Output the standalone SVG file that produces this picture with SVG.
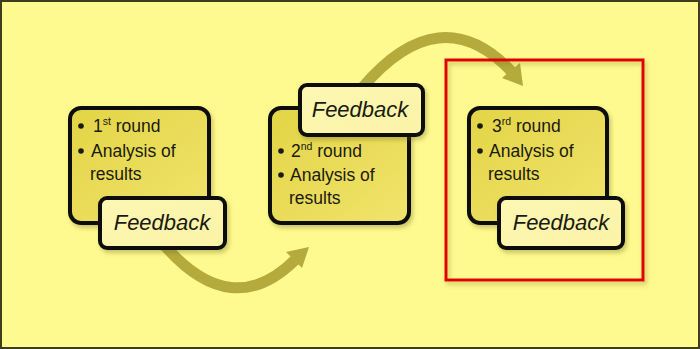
<svg xmlns="http://www.w3.org/2000/svg" width="700" height="349" viewBox="0 0 700 349">
<defs>
<linearGradient id="boxFill" x1="0" y1="0" x2="1" y2="1">
<stop offset="0" stop-color="#e3d446"/>
<stop offset="1" stop-color="#f0e46c"/>
</linearGradient>
<linearGradient id="fbFill" x1="0" y1="0" x2="1" y2="1">
<stop offset="0" stop-color="#fdf7b4"/>
<stop offset="1" stop-color="#fbf3a6"/>
</linearGradient>
<filter id="shadow" x="-10%" y="-10%" width="130%" height="130%">
<feDropShadow dx="2" dy="3" stdDeviation="2" flood-color="#6b6420" flood-opacity="0.35"/>
</filter>
</defs>
<style>
.box{fill:url(#boxFill);stroke:#111;stroke-width:4;filter:url(#shadow)}
.fb{fill:url(#fbFill);stroke:#111;stroke-width:4;filter:url(#shadow)}
.t{font-family:"Liberation Sans",Arial,sans-serif;font-size:17.5px;fill:#1a1a10}
.sup{font-size:10.5px}
.fbt{font-family:"Liberation Sans",Arial,sans-serif;font-size:22px;font-style:italic;fill:#1a1a10;text-anchor:middle}
.bul{fill:#1a1a10}
.arr{fill:none;stroke:#b5aa3c;stroke-width:11}
.head{fill:#b5aa3c}
</style>
<rect x="1" y="1" width="698" height="347" fill="#fefa8f" stroke="#3e3d1c" stroke-width="2"/>
<g id="connectors">
<path class="arr" d="M 165 246 Q 232 322 295 260"/>
<polygon class="head" points="309,247 302,268 286,252"/>
<path class="arr" d="M 362 88 Q 440 -4 512 72"/>
<polygon class="head" points="523,86 502,78 520,63"/>
</g>
<g id="box1">
<rect class="box" x="70" y="108" width="139" height="115" rx="11"/>
<circle class="bul" cx="81" cy="126" r="2.8"/>
<text class="t" x="93" y="132">1<tspan class="sup" dy="-7">st</tspan><tspan dy="7"> round</tspan></text>
<circle class="bul" cx="81" cy="151" r="2.8"/>
<text class="t" x="91" y="157">Analysis of</text>
<text class="t" x="90" y="180">results</text>
</g>
<g id="feedback1">
<rect class="fb" x="100" y="198" width="125" height="50" rx="7"/>
<text class="fbt" x="162" y="230">Feedback</text>
</g>
<g id="box2">
<rect class="box" x="270" y="108" width="139" height="115" rx="11"/>
<circle class="bul" cx="281" cy="151" r="2.8"/>
<text class="t" x="291" y="157">2<tspan class="sup" dy="-7">nd</tspan><tspan dy="7"> round</tspan></text>
<circle class="bul" cx="281" cy="175" r="2.8"/>
<text class="t" x="290" y="181">Analysis of</text>
<text class="t" x="289" y="204">results</text>
</g>
<g id="feedback2">
<rect class="fb" x="300" y="85" width="123" height="50" rx="7"/>
<text class="fbt" x="360" y="117">Feedback</text>
</g>
<g id="box3">
<rect class="box" x="469" y="108" width="138" height="115" rx="11"/>
<circle class="bul" cx="480" cy="126" r="2.8"/>
<text class="t" x="492" y="132">3<tspan class="sup" dy="-7">rd</tspan><tspan dy="7"> round</tspan></text>
<circle class="bul" cx="480" cy="151" r="2.8"/>
<text class="t" x="489" y="157">Analysis of</text>
<text class="t" x="488" y="180">results</text>
</g>
<g id="feedback3">
<rect class="fb" x="499" y="198" width="124" height="50" rx="7"/>
<text class="fbt" x="561" y="230">Feedback</text>
</g>
<g id="highlight">
<rect x="446" y="60" width="197" height="220" fill="none" stroke="#e00000" stroke-width="3" filter="url(#shadow)"/>
</g>
</svg>
